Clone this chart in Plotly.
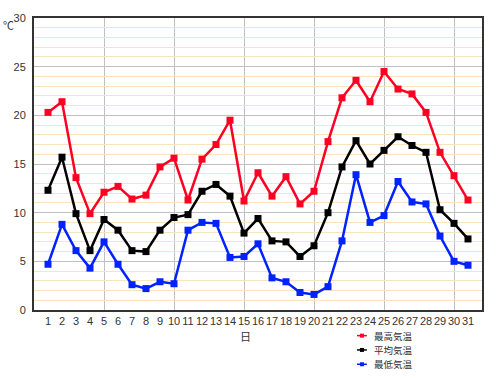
import plotly.graph_objects as go

days = list(range(1, 32))
day_labels = [str(d) for d in days]

max_temp = [20.3, 21.4, 13.6, 9.9, 12.1, 12.7, 11.4, 11.8, 14.7, 15.6,
            11.3, 15.5, 17.0, 19.5, 11.2, 14.1, 11.7, 13.7, 10.9, 12.2,
            17.3, 21.8, 23.6, 21.4, 24.5, 22.7, 22.2, 20.3, 16.2, 13.8, 11.3]
avg_temp = [12.3, 15.7, 9.9, 6.1, 9.3, 8.2, 6.1, 6.0, 8.2, 9.5,
            9.8, 12.2, 12.9, 11.7, 7.9, 9.4, 7.1, 7.0, 5.5, 6.6,
            10.0, 14.7, 17.4, 15.0, 16.4, 17.8, 16.9, 16.2, 10.3, 8.9, 7.3]
min_temp = [4.7, 8.8, 6.1, 4.3, 7.0, 4.7, 2.6, 2.2, 2.9, 2.7,
            8.2, 9.0, 8.9, 5.4, 5.5, 6.8, 3.3, 2.9, 1.8, 1.6,
            2.4, 7.1, 13.9, 9.0, 9.7, 13.2, 11.1, 10.9, 7.6, 5.0, 4.6]

series_names = ["最高気温", "平均気温", "最低気温"]
series_colors = ["#ff0022", "#000000", "#0022ff"]
series_values = [max_temp, avg_temp, min_temp]

fig = go.Figure()
for name, vals, color in zip(series_names, series_values, series_colors):
    fig.add_trace(go.Scatter(
        x=days, y=vals, name=name, mode="lines+markers",
        line=dict(color=color, width=2.5),
        marker=dict(symbol="square", size=7, color=color),
        showlegend=False,
    ))

num_font = dict(family="Liberation Sans, Arial, sans-serif", size=11, color="#333333")
jp_font = dict(family="Noto Sans CJK JP", size=11, color="#333333")
leg_font = dict(family="Noto Sans CJK JP", size=9.5, color="#333333")

annotations = [
    dict(text="℃", xref="paper", yref="paper", x=-0.056, y=0.975,
         xanchor="center", yanchor="middle", showarrow=False, font=jp_font),
    dict(text="日", xref="paper", yref="paper", x=0.471, y=-0.088,
         xanchor="center", yanchor="middle", showarrow=False, font=jp_font),
]
shapes = []
leg_y = [-0.0878, -0.1368, -0.1858]
for name, color, ly in zip(series_names, series_colors, leg_y):
    annotations.append(dict(text=name, xref="paper", yref="paper", x=0.755, y=ly,
                            xanchor="left", yanchor="middle", showarrow=False,
                            font=leg_font))
    shapes.append(dict(type="line", xref="paper", yref="paper",
                       x0=0.721, x1=0.743, y0=ly, y1=ly,
                       line=dict(color=color, width=1.5)))
    shapes.append(dict(type="rect", xref="paper", yref="paper",
                       x0=0.7275, x1=0.7365, y0=ly - 0.0068, y1=ly + 0.0068,
                       fillcolor=color, line=dict(width=0)))

fig.update_layout(
    width=500, height=378,
    margin=dict(l=34, r=18, t=14, b=68),
    paper_bgcolor="white", plot_bgcolor="white",
    showlegend=False,
    xaxis=dict(
        range=[0, 32], tickmode="array", tickvals=days, ticktext=day_labels,
        tickangle=0, showgrid=False, ticks="", tickfont=num_font,
        showline=True, linecolor="#333333", linewidth=2, mirror=True,
        zeroline=False,
        minor=dict(tick0=0, dtick=5, showgrid=True, gridcolor="#c0c0c0", gridwidth=1, ticks=""),
    ),
    yaxis=dict(
        range=[0, 30], tickmode="linear", tick0=0, dtick=5,
        showgrid=True, gridcolor="#c0c0c0", gridwidth=1,
        ticks="", tickfont=num_font, ticklabelstandoff=4,
        showline=True, linecolor="#333333", linewidth=2, mirror=True,
        zeroline=False,
        minor=dict(dtick=1, showgrid=True, gridcolor="#fae3c0", gridwidth=1, ticks=""),
    ),
    annotations=annotations,
    shapes=shapes,
)

fig.write_html("out.html")
